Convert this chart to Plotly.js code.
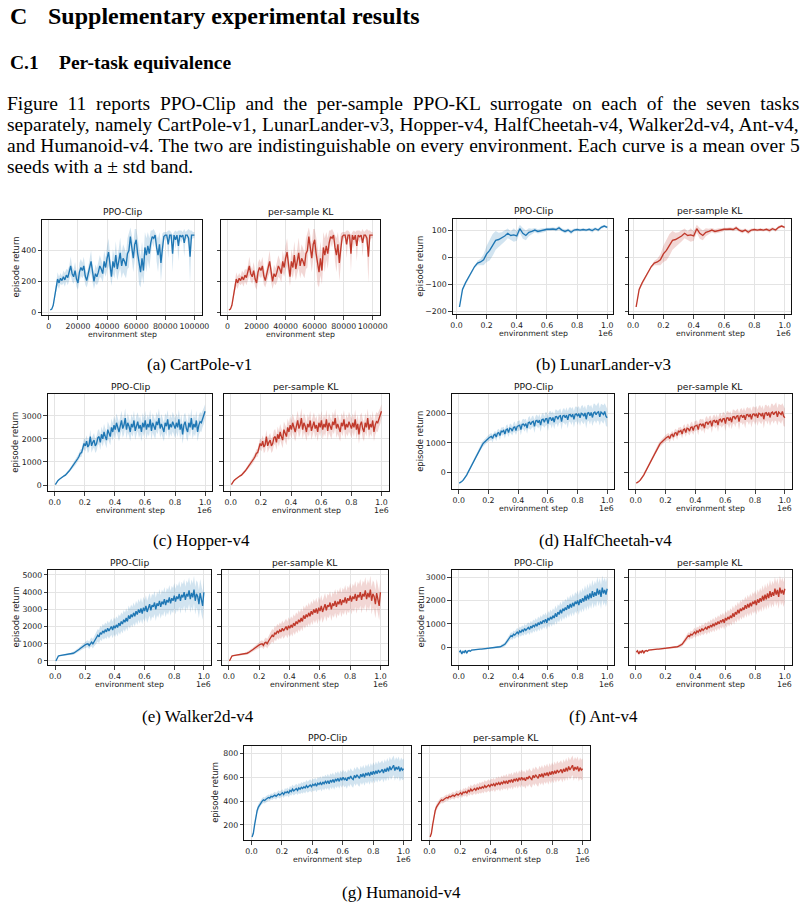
<!DOCTYPE html>
<html><head><meta charset="utf-8">
<script src="https://cdn.plot.ly/plotly-3.0.1.min.js"></script>
<style>html,body{margin:0;padding:0;background:#fff;}#chart{width:806px;height:906px;}</style>
</head><body><div id="chart"></div>
<script>
// ---------------- DATA ----------------
const seriesNames = ['PPO-Clip', 'per-sample KL'];

// CartPole-v1 : evaluation every 1000 steps, 1000..100000
const cartpoleSpan = [1000, 100000];
const cartpoleMean = [
 15,20,45,110,170,215,190,220,205,230,
 210,240,225,255,300,250,230,270,215,190,
 260,290,270,300,235,205,240,290,330,250,
 200,250,230,260,300,280,250,330,290,350,
 390,310,230,330,290,370,280,330,385,300,
 350,330,300,380,400,490,420,350,440,470,
 380,300,260,350,270,420,370,430,380,450,
 490,480,500,420,370,440,320,410,490,500,
 500,440,500,500,380,500,470,500,430,500,
 490,500,450,500,500,480,360,500,500,500];
const cartpoleStd = [
 3,5,10,25,40,45,40,35,30,40,
 45,40,50,45,60,50,45,55,50,45,
 60,55,50,60,55,45,50,60,70,55,
 50,60,55,65,70,60,55,70,60,80,
 90,70,60,80,70,90,75,80,100,80,
 90,85,80,100,110,60,80,90,100,70,
 110,120,100,110,90,100,110,90,100,80,
 40,60,20,90,110,80,120,100,30,20,
 20,90,30,20,120,20,60,20,100,30,
 40,20,90,20,30,60,170,30,20,20];

// LunarLander-v3 : 20000..1000000
const lunarSpan = [20000, 1000000];
const lunarMean = [
 -185,-120,-95,-75,-55,-35,-22,-18,-10,12,
 25,45,62,65,70,78,88,80,82,78,
 105,88,80,92,95,100,95,98,100,103,
 103,104,102,108,100,95,100,92,100,102,
 100,102,100,103,98,105,100,110,115,110];
const lunarStd = [
 3,5,5,5,6,6,8,12,20,30,
 38,40,35,25,22,20,18,15,25,18,
 15,20,18,15,10,8,8,8,8,6,
 6,6,6,8,6,8,6,8,6,5,
 5,5,5,5,8,5,6,6,5,4];

// MuJoCo tasks : 4000..1000000
const mujocoSpan = [4000, 1000000];
const hopperMean = [
 20,120,190,240,290,330,370,400,430,480,540,610,680,750,830,900,980,1060,1150,1250,1380,1400,1650,1800,1700,
 1900,1650,1750,2100,1700,1850,1950,1700,1800,2050,2100,1850,2200,2000,2300,2100,1950,2400,2250,2100,2500,2300,2600,2400,
 2700,2500,2300,2550,2800,2450,2600,2900,2400,2700,2550,2300,2650,2500,2800,2350,2600,2750,2450,2600,2300,2700,2500,2800,
 2400,2650,2500,2850,2350,2700,2550,2400,2750,2600,2900,2450,2650,2500,2300,2700,2550,2850,2400,2650,2500,2750,2600,2450,
 2700,2500,2850,2400,2650,2200,2600,2750,2450,2300,2700,2500,2900,2400,2650,2500,2800,2300,2600,2750,2700,2900,3000,3200];
const hopperStd = [
 10,15,20,25,30,35,40,45,50,55,60,70,80,90,100,110,120,130,140,150,160,170,200,250,250,
 260,270,280,290,300,300,310,310,320,320,330,330,340,340,350,350,360,360,370,370,380,380,390,390,
 400,390,410,400,420,400,410,430,400,420,410,400,430,410,420,400,430,410,420,400,410,430,400,420,
 410,420,400,430,410,420,400,410,430,400,420,410,430,400,410,420,430,400,410,420,400,430,410,420,
 410,420,430,400,420,410,430,400,420,410,430,400,420,410,430,400,420,410,430,420,400,380,350,300];

const cheetahMean = [
 -350,-330,-300,-260,-210,-150,-80,0,80,170,260,350,440,530,610,690,770,840,900,960,1010,1060,1100,1140,1170,
 1200,1220,1150,1260,1290,1200,1330,1350,1250,1400,1380,1420,1300,1450,1470,1350,1500,1480,1400,1520,1540,1420,1560,1580,
 1600,1450,1620,1640,1580,1650,1500,1680,1700,1620,1710,1730,1560,1740,1760,1680,1770,1600,1780,1800,1700,1810,1820,1650,
 1840,1850,1750,1860,1700,1880,1890,1800,1900,1920,1720,1910,1930,1850,1940,1780,1950,1960,1880,1970,1800,1960,1980,1900,
 1990,1850,2000,1980,1900,2010,1800,2000,2020,1920,2030,1860,2010,2040,1950,2030,2050,1880,2040,2000,1960,2060,1900,1850];
const cheetahStd = [
 20,20,25,30,35,40,45,50,55,60,65,70,75,80,80,85,85,90,90,95,95,100,100,105,110,
 110,120,130,115,125,140,120,130,150,125,140,130,150,140,160,145,150,170,150,160,180,150,170,160,
 170,190,160,180,200,170,190,180,210,175,190,200,220,180,200,190,210,230,200,220,190,230,210,250,
 220,230,260,210,240,250,230,270,220,240,280,230,250,240,260,290,230,250,270,240,280,260,250,290,
 260,280,250,300,270,260,310,280,270,300,260,290,310,280,300,270,320,290,280,300,310,280,330,300];

const walkerMean = [
 0,150,290,310,320,330,340,350,360,370,380,390,400,420,450,480,520,570,620,680,740,800,850,900,950,
 980,1000,900,1050,1100,1000,1150,1250,1350,1500,1400,1650,1550,1750,1650,1800,1700,1900,1750,1850,2000,1800,2050,1900,
 2100,1950,2200,2050,2300,2150,2400,2250,2500,2300,2650,2450,2700,2550,2800,2600,2900,2700,3000,2800,3050,2750,3100,2900,
 3200,2850,3100,3300,2950,3250,3150,3400,3000,3350,3200,3500,3150,3450,3300,3600,3250,3550,3400,3700,3350,3650,3500,3800,
 3450,3750,3600,3900,3500,3850,3700,4000,3550,3900,3750,4100,3600,3950,3700,4150,3500,3900,3750,3300,3950,3600,3200,4000];
const walkerStd = [
 5,20,30,30,30,30,30,35,40,45,50,55,60,70,80,90,100,110,120,130,140,150,160,170,180,
 190,200,220,240,260,280,300,320,340,360,380,400,400,420,420,440,440,450,450,460,470,480,490,500,
 500,520,520,540,540,550,560,560,570,570,580,580,590,590,600,600,600,610,610,620,620,620,630,630,
 640,640,650,650,660,660,660,670,670,680,680,690,690,700,700,700,710,710,720,720,720,730,730,740,
 740,740,750,750,760,760,760,770,770,780,780,780,790,790,800,800,800,800,810,810,820,820,820,830];

const antMean = [
 -200,-150,-280,-180,-220,-130,-250,-160,-140,-170,-120,-110,-130,-100,-90,-95,-85,-80,-75,-70,-65,-60,-55,-50,-45,
 -40,-35,-30,-25,-20,-10,0,10,25,40,60,90,130,200,280,350,420,500,460,560,520,600,650,580,
 700,640,740,680,800,720,780,850,760,900,820,950,880,1000,900,1050,960,1100,1000,1150,1080,1200,1050,1250,
 1150,1300,1200,1350,1250,1450,1300,1500,1400,1600,1450,1650,1550,1700,1600,1800,1650,1850,1700,1900,1750,1950,1850,2000,
 1800,2050,1900,2100,1950,2200,2000,2250,2050,2300,2100,2400,2150,2350,2200,2500,2250,2450,2150,2550,2300,2450,2250,2500];
const antStd = [
 60,80,70,60,70,50,60,50,40,40,35,30,30,30,25,25,25,25,25,25,25,30,30,30,30,
 30,30,35,35,40,40,45,50,55,60,70,80,90,100,110,120,130,140,150,160,160,170,180,180,
 190,190,200,200,210,210,220,220,230,230,240,240,250,250,260,260,270,270,280,280,290,290,300,300,
 310,310,320,320,330,330,340,340,350,350,360,360,370,370,380,380,390,390,400,400,410,410,420,420,
 420,430,430,440,440,450,450,460,460,470,470,480,480,490,490,500,500,510,510,520,520,530,530,540];

const humanoidMean = [
 100,130,200,280,320,350,370,390,400,410,405,415,420,430,425,440,435,445,450,440,455,460,450,465,470,
 455,475,470,480,465,490,480,500,485,495,505,490,510,500,515,505,520,510,530,515,525,535,520,540,
 530,545,525,550,540,555,535,560,545,565,550,570,545,575,560,580,555,585,570,590,565,595,575,600,
 580,590,570,600,585,610,590,580,615,595,620,600,590,625,605,630,600,635,615,640,610,645,620,650,
 625,655,630,660,640,650,665,635,670,645,680,650,690,660,675,700,655,685,665,690,650,680,660,670];
const humanoidStd = [
 5,10,20,25,25,25,25,25,25,25,25,25,25,25,25,25,25,25,28,28,28,30,30,30,30,
 30,32,32,34,34,36,36,38,38,40,40,40,42,42,44,44,44,46,46,46,48,48,48,50,
 50,50,52,52,52,54,54,54,56,56,56,58,58,58,60,60,60,60,62,62,62,62,64,64,
 64,64,66,66,66,66,68,68,68,68,70,70,70,70,70,72,72,72,72,74,74,74,74,76,
 76,76,76,78,78,78,78,80,80,80,80,80,82,82,82,82,84,84,84,84,86,86,86,86];

// tick labels
const cartpoleXTicks = [0,20000,40000,60000,80000,100000];
const cartpoleXText  = ['0','20000','40000','60000','80000','100000'];
const millionXTicks  = [0,200000,400000,600000,800000,1000000];
const millionXText   = ['0.0','0.2','0.4','0.6','0.8','1.0'];
const cartpoleYTicks = [0,200,400];
const lunarYTicks    = [-200,-100,0,100];
const lunarYText     = ['\u2212200','\u2212100','0','100'];
const hopperYTicks   = [0,1000,2000,3000];
const cheetahYTicks  = [0,1000,2000];
const walkerYTicks   = [0,1000,2000,3000,4000,5000];
const antYTicks      = [0,1000,2000,3000];
const humanoidYTicks = [200,400,600,800];

// ---------------- LAYOUT / STYLE ----------------
const W = 806, H = 906;
const PX = x => x / W, PY = y => 1 - y / H;
const COLORS = ['#1f77b4', '#c0392b'];
const FILLS = ['rgba(31,119,180,0.2)', 'rgba(192,57,43,0.2)'];
const SANS = 'DejaVu Sans', SERIF = 'Liberation Serif';

const tasks = [
 {cap:'(a) CartPole-v1', span:cartpoleSpan, mean:cartpoleMean, std:cartpoleStd, xr:[-4500,105000], yr:[-18,598],
  xt:cartpoleXTicks, xtt:cartpoleXText, yt:cartpoleYTicks, ytt:cartpoleYTicks.map(String), off:'',
  boxes:[[42.3,201.7],[221,380]], top:220, bot:315, capX:199, capY:364, ylabX:15},
 {cap:'(b) LunarLander-v3', span:lunarSpan, mean:lunarMean, std:lunarStd, xr:[-25000,1040000], yr:[-212,141],
  xt:millionXTicks, xtt:millionXText, yt:lunarYTicks, ytt:lunarYText, off:'1e6',
  boxes:[[452.7,613.3],[629.3,790.7]], top:219, bot:314.3, capX:603, capY:365, ylabX:420},
 {cap:'(c) Hopper-v4', span:mujocoSpan, mean:hopperMean, std:hopperStd, xr:[-47000,1048000], yr:[-258,3934],
  xt:millionXTicks, xtt:millionXText, yt:hopperYTicks, ytt:hopperYTicks.map(String), off:'1e6',
  boxes:[[47.7,212.3],[223.7,388.7]], top:394.3, bot:491, capX:201, capY:540, ylabX:15},
 {cap:'(d) HalfCheetah-v4', span:mujocoSpan, mean:cheetahMean, std:cheetahStd, xr:[-47000,1048000], yr:[-560,2640],
  xt:millionXTicks, xtt:millionXText, yt:cheetahYTicks, ytt:cheetahYTicks.map(String), off:'1e6',
  boxes:[[451.7,614.3],[628.7,792]], top:394.3, bot:489.3, capX:605, capY:540, ylabX:420},
 {cap:'(e) Walker2d-v4', span:mujocoSpan, mean:walkerMean, std:walkerStd, xr:[-47000,1048000], yr:[-233,5290],
  xt:millionXTicks, xtt:millionXText, yt:walkerYTicks, ytt:walkerYTicks.map(String), off:'1e6',
  boxes:[[48.3,211],[221.7,387.7]], top:570, bot:665, capX:198, capY:716, ylabX:15},
 {cap:'(f) Ant-v4', span:mujocoSpan, mean:antMean, std:antStd, xr:[-47000,1048000], yr:[-755,3300],
  xt:millionXTicks, xtt:millionXText, yt:antYTicks, ytt:antYTicks.map(String), off:'1e6',
  boxes:[[451.7,614.3],[628.7,792]], top:570, bot:665, capX:603, capY:716, ylabX:420},
 {cap:'(g) Humanoid-v4', span:mujocoSpan, mean:humanoidMean, std:humanoidStd, xr:[-47000,1048000], yr:[74,864],
  xt:millionXTicks, xtt:millionXText, yt:humanoidYTicks, ytt:humanoidYTicks.map(String), off:'1e6',
  boxes:[[244.3,411],[422.3,590]], top:745.7, bot:840, capX:401, capY:892, ylabX:215}
];

function grid(span, n) { const a = []; for (let i = 0; i < n; i++) a.push(span[0] + (span[1] - span[0]) * i / (n - 1)); return a; }

const traces = [];
const layout = {
  width: W, height: H, margin: {l:0, r:0, t:0, b:0},
  paper_bgcolor: '#fff', plot_bgcolor: '#fff', showlegend: false,
  font: {family: SANS, size: 8, color: '#222'},
  annotations: []
};
const ann = (o) => layout.annotations.push(Object.assign({xref:'paper', yref:'paper', showarrow:false}, o));

let k = 0;
tasks.forEach(t => {
  const n = Math.min(t.mean.length, t.std.length);
  const m = t.mean.slice(0, n), s = t.std.slice(0, n);
  const x = grid(t.span, n);
  const up = m.map((v, i) => v + s[i]), lo = m.map((v, i) => v - s[i]);
  t.boxes.forEach((b, j) => {
    k++;
    const xa = 'x' + (k === 1 ? '' : k), ya = 'y' + (k === 1 ? '' : k);
    traces.push({x: x.concat(x.slice().reverse()), y: up.concat(lo.slice().reverse()), xaxis: xa, yaxis: ya,
      type: 'scatter', mode: 'lines', fill: 'toself', fillcolor: FILLS[j], line: {width: 0}, hoverinfo: 'skip'});
    traces.push({x: x, y: m, xaxis: xa, yaxis: ya, type: 'scatter', mode: 'lines', name: seriesNames[j],
      line: {color: COLORS[j], width: 1.35}});
    const common = {showgrid: true, gridcolor: '#e4e4e4', gridwidth: 1, zeroline: false, showline: true, mirror: true,
      linecolor: '#111', linewidth: 1, ticks: 'outside', ticklen: 3.5, tickwidth: 0.8, tickcolor: '#111',
      tickfont: {family: SANS, size: 7.8, color: '#222'}, tickangle: 0, fixedrange: true};
    layout['xaxis' + (k === 1 ? '' : k)] = Object.assign({}, common, {domain: [PX(b[0]), PX(b[1])], anchor: ya,
      range: t.xr, tickmode: 'array', tickvals: t.xt, ticktext: t.xtt});
    layout['yaxis' + (k === 1 ? '' : k)] = Object.assign({}, common, {domain: [PY(t.bot), PY(t.top)], anchor: xa,
      range: t.yr, tickmode: 'array', tickvals: t.yt, ticktext: t.ytt, showticklabels: j === 0});
    const cx = (b[0] + b[1]) / 2;
    ann({x: PX(cx), y: PY(t.top - 8), text: seriesNames[j], xanchor: 'center', yanchor: 'middle',
      font: {family: SANS, size: 9.2, color: '#111'}});
    ann({x: PX(cx), y: PY(t.bot + 19.5), text: 'environment step', xanchor: 'center', yanchor: 'middle',
      font: {family: SANS, size: 7.8, color: '#222'}});
    if (t.off) ann({x: PX(b[1] + 2), y: PY(t.bot + 19.5), text: t.off, xanchor: 'right', yanchor: 'middle',
      font: {family: SANS, size: 7.8, color: '#222'}});
  });
  ann({x: PX(t.ylabX), y: PY((t.top + t.bot) / 2), text: 'episode return', textangle: -90, xanchor: 'center',
    yanchor: 'middle', font: {family: SANS, size: 8.4, color: '#222'}});
  ann({x: PX(t.capX), y: PY(t.capY), text: t.cap, xanchor: 'center', yanchor: 'middle',
    font: {family: SERIF, size: 17, color: '#000'}});
});

// header text
ann({x: PX(8), y: PY(16), text: '<b>C</b>', xanchor: 'left', yanchor: 'middle', font: {family: SERIF, size: 24, color: '#000'}});
ann({x: PX(46), y: PY(16), text: '<b>Supplementary experimental results</b>', xanchor: 'left', yanchor: 'middle', font: {family: SERIF, size: 24, color: '#000'}});
ann({x: PX(8), y: PY(62), text: '<b>C.1</b>', xanchor: 'left', yanchor: 'middle', font: {family: SERIF, size: 19.5, color: '#000'}});
ann({x: PX(57), y: PY(62), text: '<b>Per-task equivalence</b>', xanchor: 'left', yanchor: 'middle', font: {family: SERIF, size: 19.5, color: '#000'}});

const paraLines = [
 'Figure 11 reports PPO-Clip and the per-sample PPO-KL surrogate on each of the seven tasks',
 'separately, namely CartPole-v1, LunarLander-v3, Hopper-v4, HalfCheetah-v4, Walker2d-v4, Ant-v4,',
 'and Humanoid-v4. The two are indistinguishable on every environment. Each curve is a mean over 5',
 'seeds with a \u00b1 std band.'];
const paraSize = 19.5, paraLeft = 5, paraRight = 798, paraY = [103, 124, 145, 166];
const ctx = document.createElement('canvas').getContext('2d');
ctx.font = paraSize + 'px "' + SERIF + '"';
paraLines.forEach((line, i) => {
  let txt = line;
  if (i < paraLines.length - 1) {
    const w = ctx.measureText(line).width;
    const nsp = (line.match(/ /g) || []).length;
    const ws = (paraRight - paraLeft - w) / nsp;
    txt = '<span style="word-spacing:' + ws.toFixed(2) + 'px">' + line + '</span>';
  }
  ann({x: PX(paraLeft), y: PY(paraY[i]), text: txt, xanchor: 'left', yanchor: 'middle', font: {family: SERIF, size: paraSize, color: '#000'}});
});

Plotly.newPlot('chart', traces, layout, {displayModeBar: false, staticPlot: true});
</script></body></html>
